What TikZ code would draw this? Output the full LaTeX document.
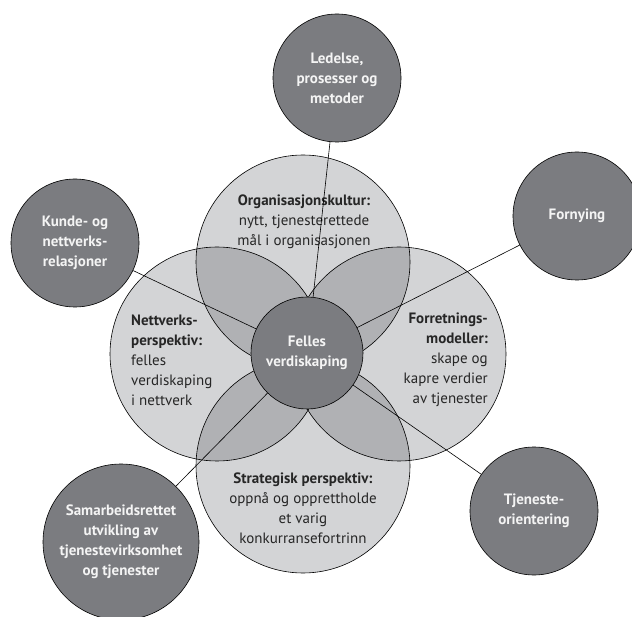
\documentclass[tikz,border=0pt]{standalone}
\usepackage{fontspec}
\setmainfont{PT Sans}
\definecolor{lightg}{HTML}{D3D4D6}
\definecolor{lensg}{HTML}{B0B1B4}
\definecolor{darkg}{HTML}{7B7C80}
\definecolor{inkg}{HTML}{262626}
\definecolor{paleg}{HTML}{F4F4F4}
\begin{document}
\begin{tikzpicture}[x=1pt,y=-1pt,
  txt/.style={font=\fontsize{15}{20}\selectfont, text=inkg, inner sep=0pt},
  bigc/.style={circle, draw=black, line width=0.6pt, minimum size=214pt, inner sep=0pt},
  darkc/.style={circle, draw=black, line width=0.6pt, fill=darkg, inner sep=0pt,
     align=center, text=paleg, font=\fontsize{15}{20}\selectfont\bfseries},
  conn/.style={draw=black, line width=0.6pt}]
\useasboundingbox (0,0) rectangle (632,617);
% centres of the four large circles
\coordinate (pT) at (303,262);
\coordinate (pL) at (217,354);
\coordinate (pR) at (399,354);
\coordinate (pB) at (303,466);
% light fills
\foreach \p in {pT,pL,pR,pB} \fill[lightg] (\p) circle[radius=107pt];
% overlaps
\begin{scope}
  \clip (pT) circle[radius=107pt];
  \fill[lensg] (pL) circle[radius=107pt];
  \fill[lensg] (pR) circle[radius=107pt];
\end{scope}
\begin{scope}
  \clip (pB) circle[radius=107pt];
  \fill[lensg] (pL) circle[radius=107pt];
  \fill[lensg] (pR) circle[radius=107pt];
\end{scope}
\begin{scope}
  \clip (pL) circle[radius=107pt];
  \fill[lensg] (pR) circle[radius=107pt];
\end{scope}
% outlines of large circles
\node[bigc] (T) at (pT) {};
\node[bigc] (L) at (pL) {};
\node[bigc] (R) at (pR) {};
\node[bigc] (B) at (pB) {};
% texts in the large circles
\node[txt, align=center] (tT) at (304,222)
  {\textbf{Organisasjonskultur:}\\nytt, tjenesterettede\\mål i organisasjonen};
\node[txt, align=left, anchor=west] (tL) at (131,360)
  {\textbf{Nettverks-}\\\textbf{perspektiv:}\\felles\\verdiskaping\\i nettverk};
\node[txt, align=right, anchor=east] (tR) at (488,360)
  {\textbf{Forretnings-}\\\textbf{modeller:}\\skape og\\kapre verdier\\av tjenester};
\node[txt, align=center] (tB) at (303,508)
  {\textbf{Strategisk perspektiv:}\\oppnå og opprettholde\\et varig\\konkurransefortrinn};
% centre and outer circles
\node[darkc, minimum size=112pt] (C) at (307,353) {Felles\\verdiskaping};
\node[darkc, minimum size=128pt] (Led) at (337,78) {Ledelse,\\prosesser og\\metoder};
\node[darkc, minimum size=128pt] (Kun) at (75,243) {Kunde- og\\nettverks-\\relasjoner};
\node[darkc, minimum size=128pt] (For) at (577,216) {Fornying};
\node[darkc, minimum size=128pt] (Tje) at (534,511) {Tjeneste-\\orientering};
\node[darkc, minimum size=156pt] (Sam) at (121,542) {Samarbeidsrettet\\utvikling av\\tjenestevirksomhet\\og tjenester};
% connectors
\draw[conn] (C) -- (Led);
\draw[conn] (C) -- (Kun);
\draw[conn] (C) -- (For);
\draw[conn] (C) -- (Tje);
\draw[conn] (C) -- (Sam);
\end{tikzpicture}
\end{document}
